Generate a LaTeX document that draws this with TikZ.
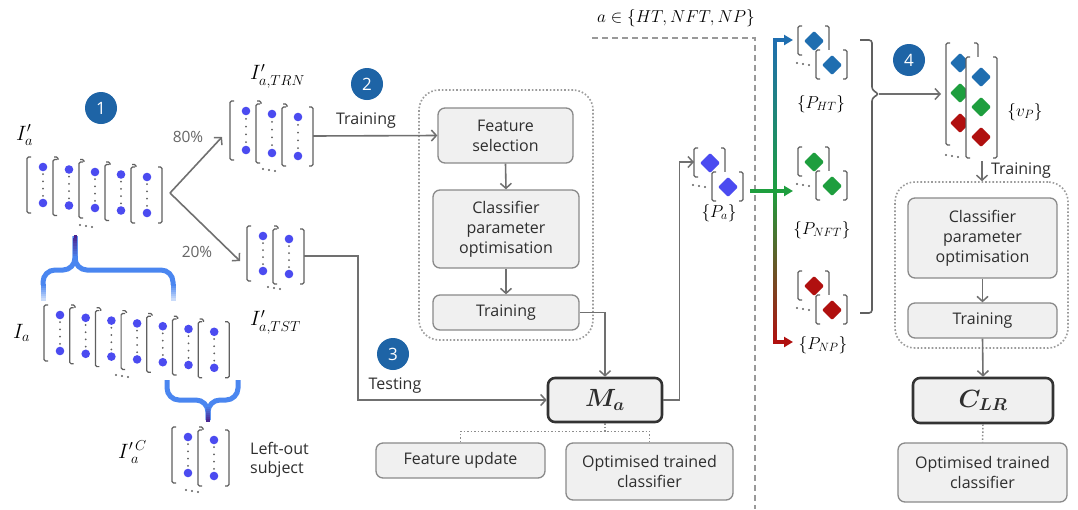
\documentclass[tikz,border=0pt]{standalone}
\usepackage{amsmath}
\usepackage{fontspec}
\setmainfont{Open Sans}
\usetikzlibrary{arrows.meta}
\definecolor{dotc}{HTML}{4B4BF0}
\definecolor{lnc}{HTML}{707070}
\definecolor{brkc}{HTML}{606060}
\definecolor{boxf}{HTML}{F0F0F0}
\definecolor{boxd}{HTML}{8A8A8A}
\definecolor{badge}{HTML}{1E64A6}
\definecolor{hb}{HTML}{1F6EB0}
\definecolor{hg}{HTML}{1E9E3E}
\definecolor{hr}{HTML}{B0100F}
\definecolor{brB}{HTML}{4A86F0}
\definecolor{brP}{HTML}{4B1F8A}
\definecolor{txt}{HTML}{2E2E2E}
\tikzset{
 brk/.style={draw=brkc, line width=1.2pt, rounded corners=1.5pt},
 arr/.style={draw=lnc, line width=1.6pt, -{Straight Barb[length=5pt,width=11pt,line width=1.5pt]}},
 conn/.style={draw=lnc, line width=1.6pt},
 dotl/.style={draw=lnc!80, line width=1.5pt, dotted},
 box/.style={draw=boxd, line width=1.3pt, fill=boxf, rounded corners=7pt, align=center, text=txt, font=\fontsize{16}{20}\selectfont, inner sep=0pt},
 bbox/.style={box, draw=black!80, line width=2.6pt},
 cont/.style={draw=lnc!70, line width=1.6pt, dotted, rounded corners=20pt},
 badgest/.style={circle, fill=badge, text=white, minimum size=32pt, inner sep=0pt, font=\fontsize{17}{17}\selectfont},
 lbl/.style={text=txt, font=\fontsize{16}{19}\selectfont, inner sep=0pt},
 pct/.style={text=black!60, font=\fontsize{15.5}{19}\selectfont, inner sep=0pt},
 mth/.style={font=\fontsize{20}{22}\selectfont, inner sep=0pt},
 mths/.style={font=\fontsize{18.5}{20}\selectfont, inner sep=0pt},
 brace/.style={line width=5pt, rounded corners=12pt},
}
\newcommand\dvec[3]{%
  \fill[white] (#1-16,#2-10) rectangle (#1+15,#2+#3+10);
  \draw[brk] (#1-12,#2-10) -- (#1-16,#2-10) -- (#1-16,#2+#3+10) -- (#1-12,#2+#3+10);
  \draw[brk] (#1+11,#2-10) -- (#1+15,#2-10) -- (#1+15,#2+#3+10) -- (#1+11,#2+#3+10);
  \foreach \k in {1,...,4} \fill[brkc] (#1,{#2+#3*\k/5}) circle (1pt);
  \fill[dotc] (#1,#2) circle (4.3pt) (#1,#2+#3) circle (4.3pt);
}
\newcommand\elps[2]{\foreach \k in {0,1,2} \fill[brkc] ({#1+6*\k},{#2+\k}) circle (1.2pt);}
\newcommand\dmd[3]{\fill[#3, rounded corners=1.2pt] (#1,#2-10) -- (#1+10,#2) -- (#1,#2+10) -- (#1-10,#2) -- cycle;}
\newcommand\dvecD[3]{%
  \fill[white] (#1-16,#2-15) rectangle (#1+15,#2+14);
  \draw[brk] (#1-12,#2-15) -- (#1-16,#2-15) -- (#1-16,#2+14) -- (#1-12,#2+14);
  \draw[brk] (#1+11,#2-15) -- (#1+15,#2-15) -- (#1+15,#2+14) -- (#1+11,#2+14);
  \dmd{#1}{#2}{#3}%
}
\newcommand\pgroup[3]{%
  \dvecD{#1}{#2}{#3}%
  \dvecD{#1+18}{#2+24}{#3}%
  \elps{#1-17}{#2+22}%
}
\begin{document}
\begin{tikzpicture}[x=1pt,y=-1pt]
\useasboundingbox[fill=white] (0,0) rectangle (1078,509);

% ---------- badges
\node[badgest] (b1) at (101,108) {1};
\node[badgest] (b2) at (367,84) {2};
\node[badgest] (b3) at (393,354) {3};
\node[badgest] (b4) at (909,60) {4};

% ---------- I'_a stack
\node[mth, anchor=west] (lia) at (16,135) {$I'_a$};
\foreach \i in {0,...,4} {\dvec{43+26*\i}{167+2.5*\i}{36}}
\elps{80}{225}
\coordinate (split) at (170,193);

% ---------- training / test stacks
\node[mth, anchor=west] (ltrn) at (250,76) {$I'_{a,TRN}$};
\foreach \i in {0,1,2} {\dvec{246+26*\i}{111+3*\i}{39}}
\elps{263}{169}
\coordinate (trnL) at (222,137);
\coordinate (trnR) at (313,136);

\node[mth, anchor=west] (ltst) at (250,322) {$I'_{a,TST}$};
\foreach \i in {0,1} {\dvec{263+26*\i}{236+3*\i}{35}}
\elps{268}{287}
\coordinate (tstL) at (240,261);
\coordinate (tstR) at (304,256);

\draw[arr] (split) -- (trnL);
\draw[arr] (split) -- (tstL);
\node[pct] (p80) at (188,137) {80\%};
\node[pct] (p20) at (197,252) {20\%};

% ---------- I_a stack
\node[mth, anchor=west] (lI) at (13,333) {$I_a$};
\foreach \i in {0,...,6} {\dvec{60+25.7*\i}{315+2.8*\i}{36}}
\elps{116}{375}

% ---------- left-out subject
\node[mth, anchor=west] (lic) at (118,452) {$I'^{\,C}_{\;a}$};
\foreach \i in {0,1} {\dvec{188+26*\i}{437+3*\i}{36}}
\elps{186}{490}
\node[lbl, anchor=west, align=left] (lo) at (250,460) {Left-out\\subject};

% ---------- braces
\draw[brace, brB] (43,285) -- (43,270) -- (75,270) -- (75,236);
\draw[brace, brB] (173,285) -- (173,270) -- (75,270) -- (75,236);
\foreach \j in {0,...,7} {
  \draw[line width=5pt, brB!\fpeval{100-10*\j}!white] (43,{284+2*\j}) -- (43,{286.5+2*\j});
  \draw[line width=5pt, brB!\fpeval{100-10*\j}!white] (173,{284+2*\j}) -- (173,{286.5+2*\j});
}
\foreach \j in {0,...,8} {
  \draw[line width={5pt-0.25pt*\j}, brP!\fpeval{12*\j}!brB] (75,{259-2.6*\j}) -- (75,{256-2.6*\j});
}
\draw[brace, brB] (167,380) -- (167,400) -- (208,400) -- (208,420);
\draw[brace, brB] (238,380) -- (238,400) -- (208,400) -- (208,420);
\foreach \j in {0,...,7} {
  \draw[line width={5pt-0.25pt*\j}, brP!\fpeval{13*\j}!brB] (208,{405+2*\j}) -- (208,{408+2*\j});
}

% ---------- training pipeline (left)
\node[cont, minimum width=174pt, minimum height=250pt] (cont1) at (506,215) {};
\node[box, minimum width=135pt, minimum height=55pt] (fs) at (505.5,135.5) {Feature\\selection};
\node[box, minimum width=146pt, minimum height=78pt] (cpo) at (506,229) {Classifier\\parameter\\optimisation};
\node[box, minimum width=146pt, minimum height=35pt] (trn) at (506,312.5) {Training};
\node[bbox, minimum width=114pt, minimum height=44pt, font=\fontsize{23}{23}\selectfont] (Ma) at (605,400) {$\boldsymbol{M_a}$};
\node[box, minimum width=169pt, minimum height=35pt] (fu) at (460.5,460.5) {Feature update};
\node[box, minimum width=167pt, minimum height=57pt] (otc1) at (649.5,471.5) {Optimised trained\\classifier};

\draw[arr] (trnR) -- (fs.west);
\node[lbl] (ltr) at (366,121) {Training};
\draw[arr] (fs.south) -- (cpo.north);
\draw[arr] (cpo.south) -- (trn.north);
\draw[arr] (trn.east) -| (Ma.north);
\draw[arr] (tstR) -- ++(54,0) |- (Ma.west);
\node[lbl] (lte) at (395,386) {Testing};
\draw[dotl] (Ma.south) -- ++(0,10);
\draw[dotl] (fu.north) -- ++(0,-11) -| (otc1.north);

% ---------- P_a
\coordinate (paIn) at (694,162);
\draw[arr] (Ma.east) -- ++(16,0) |- (paIn);
\pgroup{710}{163}{dotc}
\node[mths] (lpa) at (719,213) {$\{P_a\}$};

% ---------- dashed frame
\draw[black!40, line width=1.2pt, dash pattern=on 6pt off 4pt] (592,38) -- (755,38) -- (755,509);
\node[mth, font=\fontsize{19}{20}\selectfont] (la) at (676,18) {$a\in\{HT,NFT,NP\}$};

% ---------- gradient split
\shade[top color=hb, bottom color=hr, middle color=hg] (773.2,40) rectangle (776.8,342);
\draw[line width=3.6pt, hb, -{Triangle[length=9pt,width=10pt]}] (773.2,40) -- (793,40);
\draw[line width=3.6pt, hr, -{Triangle[length=9pt,width=10pt]}] (773.2,342) -- (793,342);
\coordinate (paOut) at (750,191);
\coordinate (nftIn) at (793,191);
\draw[line width=3.6pt, hg, -{Triangle[length=9pt,width=10pt]}] (paOut) -- (nftIn);

\pgroup{814}{41}{hb}
\node[mths] (lht) at (821,104) {$\{P_{HT}\}$};
\pgroup{814}{162}{hg}
\node[mths] (lnft) at (822,230) {$\{P_{NFT}\}$};
\pgroup{814}{286}{hr}
\node[mths] (lnp) at (823,345) {$\{P_{NP}\}$};

% ---------- grouping bracket
\coordinate (gtip) at (879,94);
\draw[brkc, line width=1.6pt, rounded corners=3pt] (860,40) -- (872,40) -- (872,90) -- (gtip) -- (872,98) -- (872,313) -- (860,313);
\coordinate (vpIn) at (941,94);
\draw[arr] (gtip) -- (vpIn);

% ---------- v_P
\fill[white] (946,43) rectangle (978,145);
\draw[brk] (950,43) -- (946,43) -- (946,145) -- (950,145);
\draw[brk] (974,43) -- (978,43) -- (978,145) -- (974,145);
\dmd{960}{63}{hb}\dmd{960}{93}{hg}\dmd{960}{123}{hr}
\fill[white] (966,57) rectangle (997,158);
\draw[brk] (970,57) -- (966,57) -- (966,158) -- (970,158);
\draw[brk] (993,57) -- (997,57) -- (997,158) -- (993,158);
\dmd{981}{77}{hb}\dmd{981}{107}{hg}\dmd{981}{137}{hr}
\elps{946}{155}
\node[mths] (lvp) at (1025,112) {$\{v_P\}$};
\coordinate (vpOut) at (982,161);

% ---------- right pipeline
\node[cont, minimum width=173pt, minimum height=166pt] (cont2) at (981.5,265) {};
\node[box, minimum width=149pt, minimum height=80pt] (cpo2) at (982.5,238) {Classifier\\parameter\\optimisation};
\node[box, minimum width=149pt, minimum height=35pt] (trn2) at (982.5,320.5) {Training};
\node[bbox, minimum width=140pt, minimum height=45pt, font=\fontsize{23}{23}\selectfont] (CLR) at (983,400.5) {$\boldsymbol{C_{LR}}$};
\node[box, minimum width=169pt, minimum height=59pt] (otc2) at (982.5,472.5) {Optimised trained\\classifier};

\draw[arr] (vpOut) -- (vpOut |- cont2.north);
\node[lbl] (ltr2) at (1021,171) {Training};
\draw[arr] (cpo2.south) -- (trn2.north);
\draw[arr] (trn2.south) -- (CLR.north);
\draw[dotl] (CLR.south) -- (otc2.north);
\end{tikzpicture}
\end{document}
